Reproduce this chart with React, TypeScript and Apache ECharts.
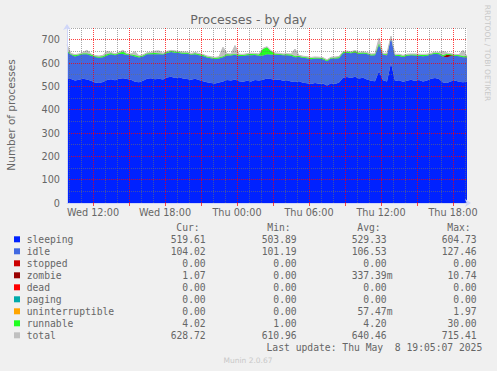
import React, { useEffect, useRef } from "react";
import * as echarts from "echarts";

// X axis: 10-minute slots from Wed 09:50 to Thu 19:10; samples every 20 minutes (every 2nd slot)
const START_MINUTE = 9 * 60 + 50; // Wed 09:50, minutes after Wed 00:00
const SLOT_MINUTES = 10;
const SLOT_COUNT = 201;
const SAMPLE_EVERY = 2;

const sleeping = [
  536, 531, 525, 528, 532, 529, 524, 516, 514, 519,
  527, 530, 526, 533, 535, 531, 528, 520, 518, 524,
  532, 535, 530, 533, 529, 538, 541, 536, 539, 534,
  531, 528, 533, 527, 522, 517, 514, 512, 516, 521,
  527, 525, 529, 522, 520, 524, 521, 527, 525, 528,
  534, 531, 527, 529, 524, 526, 521, 519, 522, 515,
  513, 510, 514, 511, 512, 504, 513, 510, 516, 537,
  540, 536, 541, 534, 537, 529, 524, 522, 565, 526,
  521, 600, 523, 526, 520, 524, 528, 523, 527, 521,
  525, 533, 536, 531, 516, 514, 522, 525, 520, 518,
  519.61,
];
const idle = [
  112, 104, 103, 105, 106, 108, 107, 110, 109, 106,
  105, 108, 107, 106, 104, 103, 105, 108, 106, 104,
  106, 103, 108, 104, 107, 105, 106, 108, 104, 106,
  109, 107, 105, 106, 108, 107, 106, 105, 103, 104,
  105, 107, 106, 108, 110, 109, 112, 107, 106, 104,
  103, 105, 108, 106, 109, 107, 110, 106, 104, 108,
  107, 106, 105, 108, 104, 103, 106, 109, 104, 105,
  104, 106, 103, 105, 104, 110, 108, 111, 112, 109,
  112, 110, 108, 104, 106, 107, 105, 109, 104, 108,
  106, 103, 104, 107, 112, 111, 108, 106, 109, 107,
  104.02,
];
const zombie = [
  0, 0, 0, 0, 0, 0, 0, 0, 0, 0,
  0, 0, 0, 0, 0, 0, 0, 0, 0, 0,
  0, 0, 0, 0, 0, 0, 0, 0, 0, 0,
  0, 0, 0, 0, 0, 0, 0, 0, 0, 0,
  0, 0, 0, 0, 0, 0, 0, 0, 0, 0,
  0, 0, 0, 0, 0, 0, 0, 0, 0, 0,
  0, 0, 0, 0, 0, 0, 0, 0, 0, 0,
  0, 0, 2, 0, 0, 0, 0, 0, 0, 0,
  0, 0, 0, 0, 0, 0, 0, 0, 0, 0,
  0, 0, 0, 0, 0, 10.74, 3, 0, 0, 0,
  1.07,
];
const uninterruptible = [
  0, 0, 0, 0, 0, 0, 0, 0, 0, 0,
  0, 0, 0, 0, 0, 0, 0, 0, 0, 0,
  0, 0, 0, 0, 0, 0, 0, 0, 0, 0,
  0, 0, 0, 0, 0, 0, 0, 0, 0, 0,
  1, 0, 0, 0, 0, 0, 0, 0, 0, 0,
  0, 0, 0, 0, 0, 0, 0, 0, 0, 0,
  0, 0, 0, 0, 0, 0, 0, 0, 0, 0,
  0, 0, 0, 0, 0, 0, 0, 0, 0, 0,
  1.97, 0, 0, 0, 0, 0, 0, 0, 0, 0,
  0, 0, 0, 0, 0, 0, 0, 0, 0, 0,
  0,
];
const runnable = [
  4, 3, 5, 4, 3, 4, 5, 3, 4, 4,
  5, 4, 3, 4, 9, 4, 3, 5, 4, 4,
  3, 4, 5, 4, 3, 4, 4, 5, 3, 4,
  4, 3, 4, 5, 4, 3, 4, 4, 5, 3,
  4, 4, 3, 5, 4, 4, 6, 4, 5, 28,
  30, 14, 5, 4, 3, 4, 5, 4, 4, 3,
  4, 5, 4, 3, 4, 4, 3, 4, 5, 4,
  4, 3, 5, 4, 4, 3, 4, 4, 5, 3,
  4, 4, 3, 5, 4, 4, 3, 4, 4, 5,
  4, 3, 4, 4, 5, 4, 4, 3, 4, 4,
  4.02,
];
const total = [
  678, 641, 636, 639, 645, 655, 639, 632, 630, 633,
  650, 645, 640, 646, 655, 641, 639, 648, 631, 635,
  644, 645, 651, 652, 642, 650, 654, 652, 649, 647,
  647, 641, 645, 641, 637, 630, 627, 624, 627, 668,
  640, 639, 675, 638, 637, 640, 642, 641, 639, 663,
  670, 653, 643, 642, 639, 640, 639, 660, 633, 629,
  627, 624, 626, 625, 623, 614, 625, 626, 628, 649,
  651, 648, 654, 646, 648, 645, 639, 640, 706, 641,
  642, 715.41, 637, 638, 633, 638, 639, 639, 638, 637,
  638, 642, 647, 645, 650, 643, 640, 637, 636, 655,
  628.72,
];

const legendNames = ["sleeping", "idle", "stopped", "zombie", "dead", "paging", "uninterruptible", "runnable", "total"];
const legendColors = ["#0022ff", "#4169e1", "#cc0000", "#990000", "#ff0000", "#00aaaa", "#ffa500", "#22ff22", "#c0c0c0"];
const curValues = ["519.61", "104.02", "0.00", "1.07", "0.00", "0.00", "0.00", "4.02", "628.72"];
const minValues = ["503.89", "101.19", "0.00", "0.00", "0.00", "0.00", "0.00", "1.00", "610.96"];
const avgValues = ["529.33", "106.53", "0.00", "337.39m", "0.00", "0.00", "57.47m", "4.20", "640.46"];
const maxValues = ["604.73", "127.46", "0.00", "10.74", "0.00", "0.00", "1.97", "30.00", "715.41"];
const columnHeaders = ["Cur:", "Min:", "Avg:", "Max:"];

const FONT = "DejaVu Sans, sans-serif";
const MONO = "DejaVu Sans Mono, monospace";
const TEXT_COLOR = "#666666";
const GRID_GRAY = "rgba(110,110,110,0.6)";
const GRID_RED = "rgba(255,0,0,0.75)";

const pad2 = (n: number) => (n < 10 ? "0" + n : String(n));
const slotMinute = (j: number) => START_MINUTE + j * SLOT_MINUTES;
const minuteLabel = (m: number) => `${m < 1440 ? "Wed" : "Thu"} ${pad2(Math.floor(m / 60) % 24)}:${pad2(m % 60)}`;
const categories = Array.from({ length: SLOT_COUNT }, (_, j) => minuteLabel(slotMinute(j)));

function pairs(values: number[]) {
  return values.map((v, i) => [i * SAMPLE_EVERY, v]);
}
const isHourMark = (j: number, every: number) => {
  const m = slotMinute(j);
  return m % 60 === 0 && (m / 60) % every === 0;
};

export default function App() {
  const ref = useRef<HTMLDivElement>(null);
  useEffect(() => {
    document.body.style.margin = "0";
    document.body.style.background = "#f0f0f0";
    if (!ref.current) return;
    const chart = echarts.init(ref.current, undefined, { renderer: "svg" });

    const colEnds = [205.7, 296.7, 386.7, 476.7];
    const columns = [curValues, minValues, avgValues, maxValues];
    const legendGraphics: any[] = [];
    columnHeaders.forEach((h, c) => {
      legendGraphics.push({
        type: "text",
        x: colEnds[c] - 6,
        y: 227.7,
        style: { text: h, font: `9.7px ${MONO}`, fill: TEXT_COLOR, align: "right", verticalAlign: "middle" },
      });
    });
    legendNames.forEach((name, i) => {
      const y = 239.3 + i * 12;
      legendGraphics.push({
        type: "rect",
        shape: { x: 14, y: y - 3, width: 6, height: 6 },
        style: { fill: legendColors[i] },
      });
      legendGraphics.push({
        type: "text",
        x: 26.7,
        y,
        style: { text: name, font: `9.7px ${MONO}`, fill: TEXT_COLOR, align: "left", verticalAlign: "middle" },
      });
      columns.forEach((col, c) => {
        const raw = col[i];
        const hasUnit = /[a-zA-Z]$/.test(raw);
        const num = hasUnit ? raw.slice(0, -1) : raw;
        legendGraphics.push({
          type: "text",
          x: colEnds[c],
          y,
          style: { text: num, font: `9.7px ${MONO}`, fill: TEXT_COLOR, align: "right", verticalAlign: "middle" },
        });
        if (hasUnit) {
          legendGraphics.push({
            type: "text",
            x: colEnds[c],
            y,
            style: { text: raw.slice(-1), font: `9.7px ${MONO}`, fill: TEXT_COLOR, align: "left", verticalAlign: "middle" },
          });
        }
      });
    });

    const areaSeries = (name: string, data: number[], color: string) => ({
      name,
      type: "line",
      stack: "procs",
      data: pairs(data),
      symbol: "none",
      lineStyle: { width: 0 },
      areaStyle: { color, opacity: 1 },
      itemStyle: { color },
      z: 2,
      silent: true,
    });

    chart.setOption({
      animation: false,
      backgroundColor: "#f0f0f0",
      grid: {
        left: 67,
        top: 28,
        width: 400,
        height: 175,
        show: true,
        backgroundColor: "#ffffff",
        borderWidth: 0,
        z: 0,
      },
      xAxis: {
        type: "category",
        data: categories,
        boundaryGap: false,
        z: 10,
        splitLine: {
          show: true,
          interval: (j: number) => isHourMark(j, 1),
          lineStyle: { color: [GRID_GRAY, GRID_GRAY, GRID_RED], type: "dotted", width: 1 },
        },
        axisLine: {
          show: true,
          lineStyle: { color: "#CFD6F8", width: 1 },
          symbol: ["none", "arrow"],
          symbolSize: [6, 6],
          symbolOffset: [0, 4],
        },
        axisTick: {
          show: true,
          interval: (j: number) => isHourMark(j, 3),
          length: 3,
          lineStyle: { color: "rgba(255,0,0,0.7)" },
        },
        axisLabel: {
          interval: (j: number) => isHourMark(j, 6),
          color: TEXT_COLOR,
          fontFamily: FONT,
          fontSize: 9.7,
          margin: 4,
        },
      },
      yAxis: {
        type: "value",
        min: 0,
        max: 750,
        interval: 50,
        z: 10,
        splitLine: {
          show: true,
          lineStyle: { color: [GRID_RED, GRID_GRAY], type: "dotted", width: 1 },
        },
        axisLine: {
          show: true,
          lineStyle: { color: "#CFD6F8", width: 1 },
          symbol: ["none", "arrow"],
          symbolSize: [6, 6],
          symbolOffset: [0, 4],
        },
        axisTick: { show: false },
        axisLabel: {
          formatter: (v: number) => (v % 100 === 0 ? String(v) : ""),
          color: TEXT_COLOR,
          fontFamily: FONT,
          fontSize: 9.7,
          margin: 7,
        },
      },
      series: [
        {
          name: "total-fill",
          type: "line",
          data: pairs(total),
          symbol: "none",
          lineStyle: { width: 0 },
          areaStyle: { color: "#c0c0c0", opacity: 1 },
          z: 1,
          silent: true,
        },
        areaSeries("sleeping", sleeping, "#0022ff"),
        areaSeries("idle", idle, "#4169e1"),
        areaSeries("zombie", zombie, "#990000"),
        areaSeries("uninterruptible", uninterruptible, "#ffa500"),
        areaSeries("runnable", runnable, "#22ff22"),
        {
          name: "total",
          type: "line",
          data: pairs(total),
          symbol: "none",
          lineStyle: { color: "#c0c0c0", width: 1 },
          z: 5,
          silent: true,
        },
      ],
      graphic: [
        {
          type: "text",
          x: 248.5,
          y: 19.5,
          style: { text: "Processes - by day", font: `12.5px ${FONT}`, fill: TEXT_COLOR, align: "center", verticalAlign: "middle" },
        },
        {
          type: "text",
          x: 11,
          y: 115,
          rotation: Math.PI / 2,
          style: { text: "Number of processes", font: `10.5px ${FONT}`, fill: TEXT_COLOR, align: "center", verticalAlign: "middle" },
        },
        {
          type: "text",
          x: 487,
          y: 53,
          rotation: -Math.PI / 2,
          style: { text: "RRDTOOL / TOBI OETIKER", font: `7.5px ${FONT}`, fill: "#c8c8c8", align: "center", verticalAlign: "middle" },
        },
        ...legendGraphics,
        {
          type: "text",
          x: 482.3,
          y: 347.7,
          style: { text: "Last update: Thu May  8 19:05:07 2025", font: `9.7px ${MONO}`, fill: TEXT_COLOR, align: "right", verticalAlign: "middle" },
        },
        {
          type: "text",
          x: 248,
          y: 360,
          style: { text: "Munin 2.0.67", font: `7.5px ${FONT}`, fill: "#c8c8c8", align: "center", verticalAlign: "middle" },
        },
      ],
    });
    return () => chart.dispose();
  }, []);
  return <div ref={ref} style={{ width: 497, height: 371 }} />;
}
